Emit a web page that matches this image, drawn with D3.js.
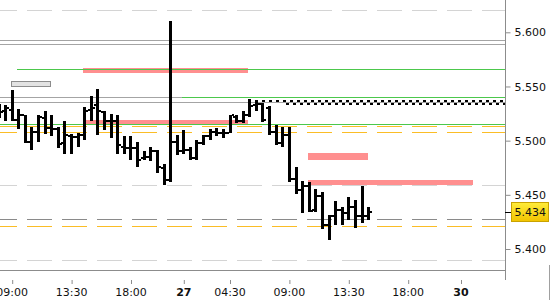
<!DOCTYPE html>
<html>
<head>
<meta charset="utf-8">
<script src="https://cdn.jsdelivr.net/npm/d3@7"></script>
<style>
  body { margin: 0; background: #fff; }
  svg text { font-family: "DejaVu Sans", sans-serif; font-size: 11px; fill: #111; }
</style>
</head>
<body>
<div id="chart"></div>
<script>
// 30 minute OHLC bars, one per slot
const opens  = [5.530, 5.527, 5.528, 5.519, 5.524, 5.499, 5.508, 5.521, 5.512, 5.511,
                5.498, 5.504, 5.503, 5.505, 5.528, 5.533, 5.526, 5.518, 5.518, 5.494,
                5.493, 5.493, 5.484, 5.485, 5.490, 5.475, 5.464, 5.499, 5.490, 5.491,
                5.484, 5.498, 5.504, 5.508, 5.507, 5.507, 5.522, 5.518, 5.524, 5.533,
                5.534, 5.530, 5.508, 5.498, 5.505, 5.465, 5.454, 5.458, 5.436, 5.449,
                5.422, 5.430, 5.436, 5.433, 5.439, 5.430, 5.430];
const highs  = [5.534, 5.533, 5.547, 5.529, 5.524, 5.513, 5.524, 5.527, 5.524, 5.513,
                5.518, 5.506, 5.507, 5.531, 5.541, 5.548, 5.527, 5.525, 5.524, 5.504,
                5.504, 5.499, 5.490, 5.494, 5.491, 5.478, 5.610, 5.505, 5.510, 5.494,
                5.501, 5.505, 5.511, 5.512, 5.511, 5.524, 5.524, 5.527, 5.538, 5.537,
                5.535, 5.532, 5.514, 5.513, 5.513, 5.476, 5.463, 5.462, 5.455, 5.453,
                5.431, 5.444, 5.439, 5.448, 5.445, 5.458, 5.439];
const lows   = [5.521, 5.518, 5.518, 5.511, 5.498, 5.491, 5.499, 5.506, 5.504, 5.493,
                5.488, 5.488, 5.494, 5.501, 5.518, 5.505, 5.510, 5.502, 5.488, 5.488,
                5.482, 5.476, 5.482, 5.481, 5.470, 5.459, 5.462, 5.487, 5.488, 5.482,
                5.482, 5.496, 5.501, 5.504, 5.502, 5.507, 5.516, 5.516, 5.522, 5.527,
                5.517, 5.505, 5.496, 5.494, 5.462, 5.451, 5.433, 5.434, 5.434, 5.418,
                5.408, 5.422, 5.422, 5.427, 5.419, 5.424, 5.427];
const closes = [5.526, 5.530, 5.519, 5.524, 5.499, 5.508, 5.522, 5.512, 5.511, 5.497,
                5.505, 5.503, 5.505, 5.527, 5.530, 5.527, 5.518, 5.518, 5.496, 5.493,
                5.493, 5.482, 5.485, 5.490, 5.476, 5.464, 5.499, 5.490, 5.491, 5.484,
                5.498, 5.504, 5.508, 5.507, 5.507, 5.524, 5.518, 5.524, 5.532, 5.534,
                5.519, 5.508, 5.498, 5.505, 5.465, 5.454, 5.458, 5.435, 5.449, 5.422,
                5.430, 5.436, 5.433, 5.439, 5.430, 5.430, 5.434];

const lastPrice = 5.434;
const yTicks = [5.400, 5.450, 5.500, 5.550, 5.600];
const tickBars   = [2, 11, 20, 28, 35, 44, 53, 62, 70];
const tickLabels = ['09:00', '13:30', '18:00', '27', '04:30', '09:00', '13:30', '18:00', '30'];

// horizontal levels: [price, fromBar, toBar, kind]
const levels = [
  [5.6206, -1, 80, 'grid'],
  [5.5926, -1, 80, 'gray'],
  [5.5895, -1, 80, 'gray'],
  [5.5658, 2.8, 80, 'green'],
  [5.5404, -1, 28, 'gray'],
  [5.5404, 27.8, 80, 'green'],
  [5.5357, -1, 80, 'gray'],
  [5.5151, -1, 80, 'green'],
  [5.5132, -1, 80, 'orange'],
  [5.5077, -1, 80, 'orange'],
  [5.4589, -1, 80, 'grid'],
  [5.4277, -1, 80, 'dark'],
  [5.4211, -1, 80, 'orange'],
  [5.3898, -1, 80, 'grid']
];
// dotted resistance rows: [price, fromBar]
const dotted = [[5.5366, 37.8], [5.5335, 43]];
// zones: [top, bottom, fromBar, toBar, kind]
const zones = [
  [5.5670, 5.5627, 12.8, 37.8, 'red'],
  [5.5550, 5.5501, 1.9, 7.85, 'box'],
  [5.5191, 5.5149, 13.1, 37.8, 'red'],
  [5.4889, 5.4821, 46.9, 56, 'red'],
  [5.4637, 5.4588, 46.9, 71.85, 'red']
];

const lineStyle = {
  grid:   { stroke: '#d4d4d4', dash: '25,10' },
  gray:   { stroke: '#a4a4a4', dash: null },
  green:  { stroke: '#4cc84c', dash: null },
  orange: { stroke: '#fbbd26', dash: '25,10' },
  dark:   { stroke: '#8a8a8a', dash: '25,10' }
};

const width = 550, height = 300;
const plotRight = 505, plotBottom = 270;

const svg = d3.select('#chart').append('svg')
  .attr('width', width)
  .attr('height', height);

const x = d3.scaleLinear().domain([0, 70]).range([-1.5, 460.5]);
const y = d3.scaleLinear().domain([5.4, 5.6]).range([249, 32.3]);

svg.append('clipPath').attr('id', 'plot')
  .append('rect').attr('width', plotRight).attr('height', plotBottom);

const plot = svg.append('g').attr('clip-path', 'url(#plot)');
const px = v => Math.round(y(v)) + 0.5;

// level lines
plot.selectAll('line.level')
  .data(levels)
  .enter()
  .append('line')
  .attr('x1', d => x(d[1]))
  .attr('x2', d => x(d[2]))
  .attr('y1', d => px(d[0]))
  .attr('y2', d => px(d[0]))
  .attr('stroke', d => lineStyle[d[3]].stroke)
  .attr('stroke-dasharray', d => lineStyle[d[3]].dash)
  .attr('shape-rendering', 'crispEdges');

// zones
plot.selectAll('rect.zone')
  .data(zones)
  .enter()
  .append('rect')
  .attr('x', d => x(d[2]))
  .attr('y', d => y(d[0]))
  .attr('width', d => x(d[3]) - x(d[2]))
  .attr('height', d => y(d[1]) - y(d[0]))
  .attr('fill', d => d[4] === 'red' ? '#ff8f8f' : '#e2e2e2')
  .attr('stroke', d => d[4] === 'red' ? 'none' : '#8c8c8c')
  .attr('shape-rendering', 'crispEdges');

// green lines sit over the zones
plot.selectAll('line.green')
  .data(levels.filter(d => d[3] === 'green'))
  .enter()
  .append('line')
  .attr('x1', d => x(d[1]))
  .attr('x2', d => x(d[2]))
  .attr('y1', d => px(d[0]))
  .attr('y2', d => px(d[0]))
  .attr('stroke', lineStyle.green.stroke)
  .attr('shape-rendering', 'crispEdges');

// dotted rows
plot.selectAll('line.dot')
  .data(dotted)
  .enter()
  .append('line')
  .attr('x1', d => x(d[1]))
  .attr('x2', plotRight)
  .attr('y1', d => Math.round(y(d[0])))
  .attr('y2', d => Math.round(y(d[0])))
  .attr('stroke', '#000')
  .attr('stroke-width', 2)
  .attr('stroke-dasharray', '3,4')
  .attr('stroke-dashoffset', (d, i) => i ? 3 : 0)
  .attr('shape-rendering', 'crispEdges');

// OHLC bars
const bars = plot.selectAll('g.bar')
  .data(opens.map((o, i) => ({ i, o, h: highs[i], l: lows[i], c: closes[i] })))
  .enter()
  .append('g')
  .attr('fill', '#000');

bars.append('rect')
  .attr('x', d => Math.round(x(d.i)) - 1)
  .attr('y', d => Math.round(y(d.h)))
  .attr('width', 3)
  .attr('height', d => Math.max(2, Math.round(y(d.l)) - Math.round(y(d.h))));

bars.append('rect')
  .attr('x', d => Math.round(x(d.i)) - 3)
  .attr('y', d => Math.round(y(d.o)) - 1)
  .attr('width', 2)
  .attr('height', 2);

bars.append('rect')
  .attr('x', d => Math.round(x(d.i)) + 2)
  .attr('y', d => Math.round(y(d.c)) - 1)
  .attr('width', 2)
  .attr('height', 2);

// frame
svg.append('line')
  .attr('x1', 0).attr('x2', plotRight)
  .attr('y1', plotBottom + 0.5).attr('y2', plotBottom + 0.5)
  .attr('stroke', '#8c8c8c');
svg.append('line')
  .attr('x1', plotRight + 0.5).attr('x2', plotRight + 0.5)
  .attr('y1', 0).attr('y2', 280)
  .attr('stroke', '#8c8c8c');
svg.append('line')
  .attr('x1', width - 0.5).attr('x2', width - 0.5)
  .attr('y1', 265).attr('y2', height)
  .attr('stroke', '#a0a0a0');

// Y axis
const yAxis = svg.append('g')
  .attr('transform', 'translate(' + (plotRight + 0.5) + ',0)')
  .call(d3.axisRight(y).tickValues(yTicks).tickFormat(d3.format('.3f')).tickSize(5).tickPadding(4));
yAxis.select('.domain').remove();
yAxis.selectAll('line').attr('stroke', '#8c8c8c');
yAxis.selectAll('text').attr('font-family', null).attr('font-size', null).attr('fill', null);

// X axis
const xAxis = svg.append('g')
  .attr('transform', 'translate(0,280)')
  .call(d3.axisBottom(x).tickValues(tickBars).tickFormat((d, i) => tickLabels[i]).tickSize(4).tickPadding(4));
xAxis.select('.domain').remove();
xAxis.selectAll('line').attr('stroke', '#8c8c8c').attr('transform', 'translate(0.5,0)');
xAxis.selectAll('text')
  .attr('font-family', null).attr('font-size', null).attr('fill', null)
  .style('font-weight', (d, i) => tickLabels[i].length === 2 ? 'bold' : null);

// last price marker
const grad = svg.append('defs').append('linearGradient')
  .attr('id', 'lastFill').attr('x1', 0).attr('x2', 0).attr('y1', 0).attr('y2', 1);
grad.append('stop').attr('offset', '0%').attr('stop-color', '#ffec3a');
grad.append('stop').attr('offset', '100%').attr('stop-color', '#f2c300');

const ly = Math.round(y(lastPrice));
svg.append('line')
  .attr('x1', plotRight).attr('x2', plotRight + 6)
  .attr('y1', ly + 0.5).attr('y2', ly + 0.5)
  .attr('stroke', '#000');
svg.append('rect')
  .attr('x', 511.5).attr('y', ly - 9.5)
  .attr('width', 37).attr('height', 19)
  .attr('fill', 'url(#lastFill)')
  .attr('stroke', '#c9a200');
svg.append('text')
  .attr('x', plotRight + 9.5).attr('y', ly + 4)
  .text(d3.format('.3f')(lastPrice));
</script>
</body>
</html>
